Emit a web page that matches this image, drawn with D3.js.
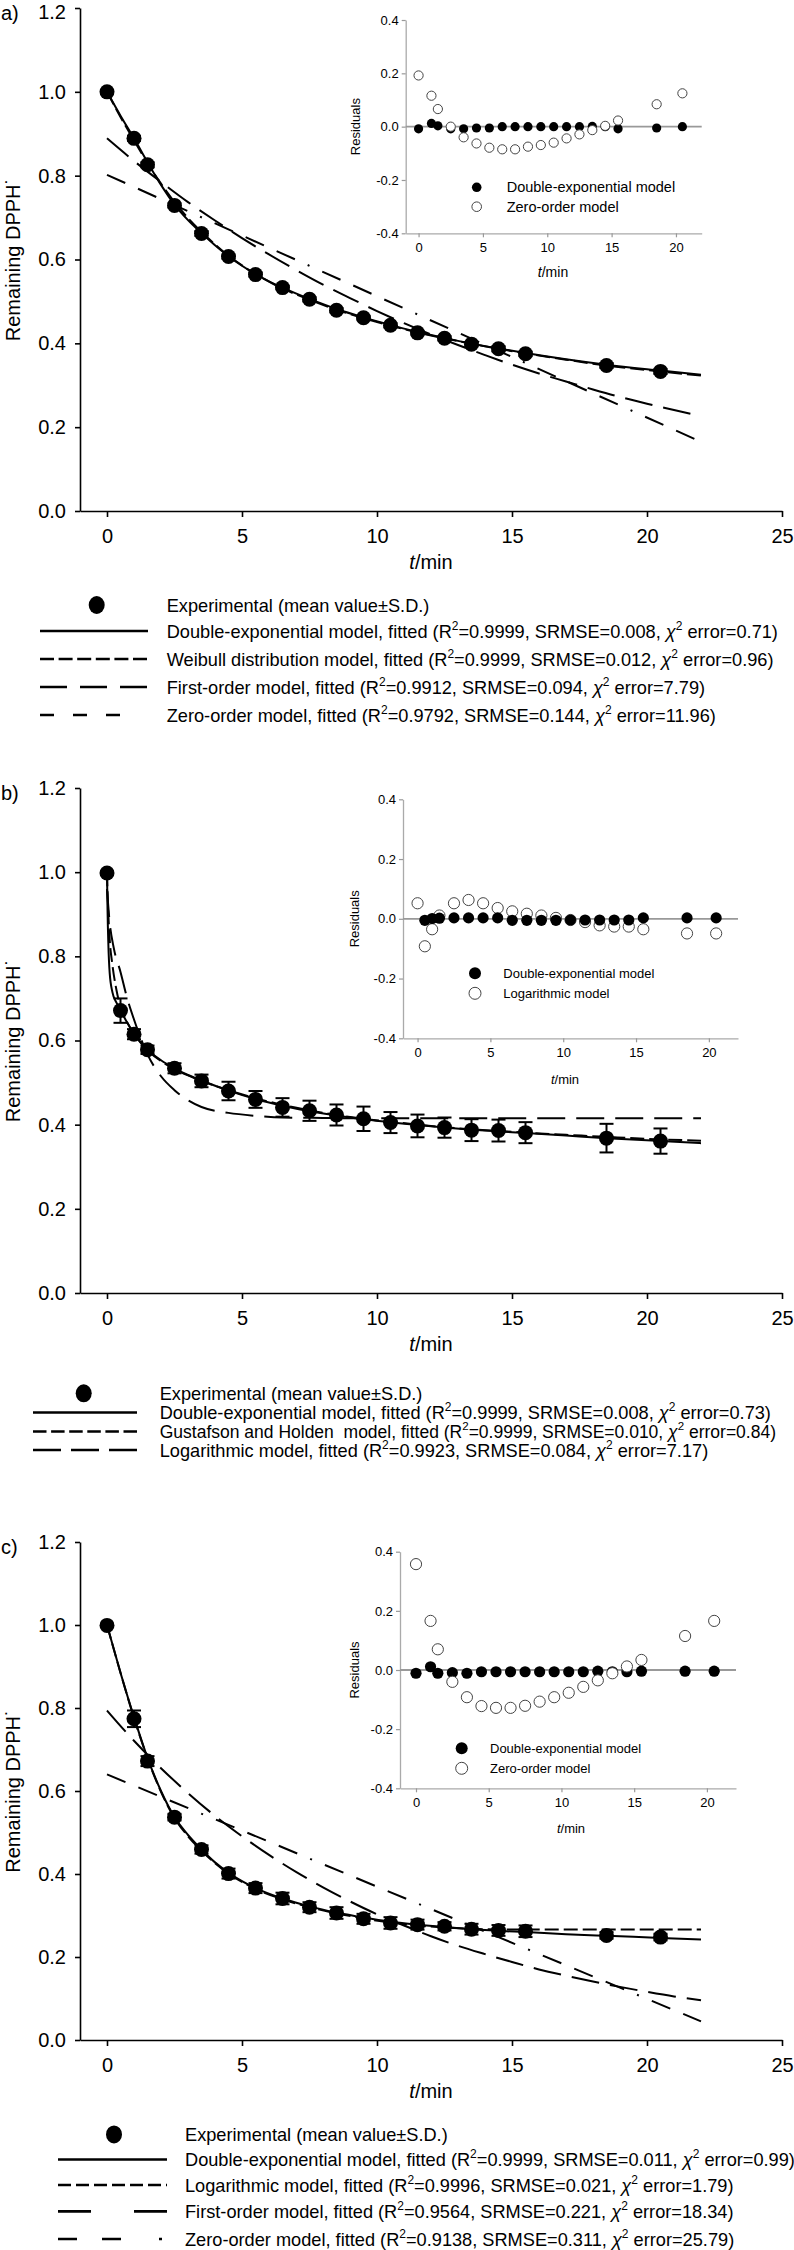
<!DOCTYPE html>
<html><head><meta charset="utf-8">
<script src="https://cdn.jsdelivr.net/npm/d3@7"></script>
<style>
body{margin:0;background:#fff}
svg{display:block}
text{font-family:"Liberation Sans",Arial,Helvetica,sans-serif;white-space:pre}
</style>
</head><body>
<svg id="chart" width="794" height="2250"></svg>
<script>
// ---------------- DATA ----------------
const xTicksMain = [0, 5, 10, 15, 20, 25];
const yTicksMain = [0, 0.2, 0.4, 0.6, 0.8, 1.0, 1.2];
const xTicksInset = [0, 5, 10, 15, 20];
const yTicksInset = [-0.4, -0.2, 0, 0.2, 0.4];

// Panel a
const timesA = [0,1,1.5,2.5,3.5,4.5,5.5,6.5,7.5,8.5,9.5,10.5,11.5,12.5,13.5,14.5,15.5,18.5,20.5];
const expA = [1.0,0.889,0.826,0.729,0.662,0.607,0.564,0.533,0.505,0.479,0.461,0.443,0.425,0.412,0.398,0.387,0.375,0.347,0.333];
const sdA = [0.004,0.006,0.006,0.005,0.006,0.005,0.005,0.004,0.005,0.005,0.004,0.005,0.004,0.005,0.005,0.006,0.005,0.006,0.006];
const fitTimesA = [0,0.5,1,1.5,2,2.5,3,3.5,4,4.5,5,5.5,6,6.5,7.5,8.5,9.5,10.5,11.5,12.5,13.5,14.5,15.5,17,18.5,20.5,22];
const doubleExpA = [1.0,0.943,0.889,0.832,0.778,0.731,0.694,0.663,0.634,0.608,0.585,0.565,0.548,0.533,0.506,0.482,0.462,0.444,0.427,0.413,0.399,0.388,0.377,0.362,0.349,0.335,0.325];
const weibullA = [1.0,0.94,0.884,0.83,0.781,0.737,0.699,0.666,0.636,0.609,0.586,0.565,0.547,0.531,0.504,0.480,0.460,0.442,0.426,0.412,0.399,0.387,0.376,0.361,0.347,0.333,0.323];
const firstTimesA = [0,1,2,3,4,5,6,7,8,9,10,11,12,13,14,15,16,17,18,19,20,21,22];
const firstOrderA = [0.889,0.835,0.785,0.737,0.693,0.651,0.612,0.575,0.540,0.508,0.477,0.448,0.421,0.396,0.372,0.349,0.328,0.309,0.290,0.272,0.256,0.241,0.226];
const zeroTimesA = [0,22];
const zeroOrderA = [0.802,0.165];
const resDoubleA = [-0.008,0.012,0.003,-0.008,-0.008,-0.005,-0.005,0,0,0,0,0,0,0,0.001,0,-0.008,-0.005,0];
const resZeroA = [0.192,0.116,0.066,0.0,-0.04,-0.063,-0.079,-0.085,-0.085,-0.075,-0.069,-0.06,-0.044,-0.029,-0.013,0.003,0.023,0.084,0.125];
const legendA = [
  "Experimental (mean value±S.D.)",
  "Double-exponential model, fitted (R2=0.9999, SRMSE=0.008, χ2 error=0.71)",
  "Weibull distribution model, fitted (R2=0.9999, SRMSE=0.012, χ2 error=0.96)",
  "First-order model, fitted (R2=0.9912, SRMSE=0.094, χ2 error=7.79)",
  "Zero-order model, fitted (R2=0.9792, SRMSE=0.144, χ2 error=11.96)"
];
const insetLegendA = ["Double-exponential model", "Zero-order model"];

// Panel b
const timesB = [0,0.5,1,1.5,2.5,3.5,4.5,5.5,6.5,7.5,8.5,9.5,10.5,11.5,12.5,13.5,14.5,15.5,18.5,20.5];
const expB = [0.998,0.671,0.615,0.578,0.534,0.504,0.480,0.460,0.441,0.433,0.423,0.414,0.405,0.397,0.393,0.387,0.386,0.381,0.368,0.361];
const sdB = [0.004,0.029,0.012,0.01,0.012,0.015,0.022,0.02,0.022,0.024,0.025,0.029,0.025,0.027,0.024,0.026,0.026,0.025,0.034,0.030];
const fitTimesB = [0,0.02,0.05,0.1,0.2,0.35,0.5,0.75,1,1.5,2,2.5,3,3.5,4.5,5.5,6.5,7.5,8.5,9.5,10.5,11.5,12.5,13.5,14.5,15.5,17,18.5,20.5,22];
const doubleExpB = [1.0,0.91,0.83,0.76,0.715,0.69,0.672,0.642,0.616,0.578,0.553,0.534,0.518,0.505,0.481,0.461,0.445,0.432,0.422,0.413,0.406,0.399,0.393,0.388,0.384,0.38,0.374,0.368,0.361,0.356];
const gustafsonB = [1.0,0.95,0.9,0.84,0.78,0.72,0.68,0.643,0.616,0.577,0.551,0.532,0.517,0.504,0.482,0.463,0.447,0.434,0.423,0.414,0.407,0.4,0.394,0.389,0.385,0.381,0.376,0.371,0.365,0.362];
const logTimesB = [0,0.1,0.25,0.5,0.75,1,1.5,2,2.5,3,3.5,4.5,5.5,6.5,8,10,12,15,18,22];
const logarithmicB = [0.96,0.88,0.82,0.763,0.70,0.65,0.567,0.515,0.482,0.458,0.442,0.428,0.421,0.417,0.416,0.415,0.415,0.415,0.415,0.415];
const resTimesDoubleB = [0.5,1,1.5,2.5,3.5,4.5,5.5,6.5,7.5,8.5,9.5,10.5,11.5,12.5,13.5,14.5,15.5,18.5,20.5];
const resDoubleB = [-0.005,0.001,0.002,0.003,0.003,0.003,0.003,-0.005,-0.005,-0.005,-0.005,-0.004,-0.004,-0.004,-0.004,-0.004,0.003,0.003,0.003];
const resLogB = [0.052,-0.092,-0.035,0.011,0.052,0.063,0.052,0.036,0.025,0.017,0.011,0.003,-0.004,-0.011,-0.022,-0.026,-0.026,-0.035,-0.049,-0.049];
const legendB = [
  "Experimental (mean value±S.D.)",
  "Double-exponential model, fitted (R2=0.9999, SRMSE=0.008, χ2 error=0.73)",
  "Gustafson and Holden  model, fitted (R2=0.9999, SRMSE=0.010, χ2 error=0.84)",
  "Logarithmic model, fitted (R2=0.9923, SRMSE=0.084, χ2 error=7.17)"
];
const insetLegendB = ["Double-exponential model", "Logarithmic model"];

// Panel c
const timesC = [0,1,1.5,2.5,3.5,4.5,5.5,6.5,7.5,8.5,9.5,10.5,11.5,12.5,13.5,14.5,15.5,18.5,20.5];
const expC = [0.999,0.774,0.672,0.537,0.459,0.401,0.366,0.341,0.320,0.306,0.292,0.282,0.278,0.274,0.267,0.264,0.262,0.252,0.248];
const sdC = [0.004,0.02,0.012,0.008,0.01,0.012,0.012,0.014,0.012,0.014,0.012,0.014,0.012,0.01,0.013,0.013,0.014,0.008,0.008];
const fitTimesC = [0,0.5,1,1.5,2,2.5,3,3.5,4,4.5,5,5.5,6.5,7.5,8.5,9.5,10.5,11.5,12.5,13.5,14.5,15.5,17,18.5,20.5,22];
const doubleExpC = [1.0,0.885,0.778,0.680,0.600,0.537,0.494,0.459,0.428,0.403,0.383,0.366,0.341,0.322,0.307,0.295,0.285,0.278,0.272,0.267,0.263,0.260,0.255,0.251,0.246,0.242];
const logTimesC = [0,0.5,1,1.5,2,2.5,3,3.5,4,4.5,5,5.5,6.5,7.5,8.5,9.5,10.5,11.5,12.5,13.5,15,22];
const logarithmicC = [1.0,0.885,0.776,0.679,0.598,0.535,0.491,0.456,0.426,0.401,0.381,0.364,0.339,0.320,0.305,0.293,0.283,0.276,0.271,0.268,0.266,0.266];
const firstTimesC = [0,1,2,3,4,5,6,7,8,9,10,11,12,13,14,15,16,17,18,19,20,21,22];
const firstOrderC = [0.794,0.721,0.655,0.595,0.540,0.491,0.446,0.405,0.368,0.334,0.303,0.276,0.250,0.227,0.207,0.188,0.170,0.155,0.141,0.128,0.116,0.105,0.096];
const zeroTimesC = [0,22];
const zeroOrderC = [0.64,0.045];
const resDoubleC = [-0.011,0.011,-0.011,-0.009,-0.011,-0.006,-0.006,-0.006,-0.006,-0.006,-0.006,-0.006,-0.006,-0.004,-0.006,-0.006,-0.004,-0.004,-0.004];
const resZeroC = [0.358,0.166,0.07,-0.04,-0.092,-0.122,-0.128,-0.128,-0.121,-0.107,-0.092,-0.077,-0.057,-0.035,-0.011,0.012,0.034,0.115,0.166];
const legendC = [
  "Experimental (mean value±S.D.)",
  "Double-exponential model, fitted (R2=0.9999, SRMSE=0.011, χ2 error=0.99)",
  "Logarithmic model, fitted (R2=0.9996, SRMSE=0.021, χ2 error=1.79)",
  "First-order model, fitted (R2=0.9564, SRMSE=0.221, χ2 error=18.34)",
  "Zero-order model, fitted (R2=0.9138, SRMSE=0.311, χ2 error=25.79)"
];
const insetLegendC = ["Double-exponential model", "Zero-order model"];

// ---------------- DRAWING ----------------
const svg = d3.select("#chart");
svg.append("rect").attr("width", 794).attr("height", 2250).attr("fill", "#fff");
const x = d3.scaleLinear().domain([-1, 25]).range([80, 782]);
const zip = (ts, vs) => ts.map((t, i) => [t, vs[i]]);

const DASH = {
  solid: null,
  short: "14,5",
  long: "28,11",
  dashdot: "20,14,20,14,20,14,2,14"
};

function richText(g, str, fs) {
  let pending = 0;
  str.split(/(R2|χ2)/).forEach(p => {
    if (!p) return;
    if (p === "R2" || p === "χ2") {
      const base = g.append("tspan").text(p[0]);
      if (pending) { base.attr("dy", pending); pending = 0; }
      if (p[0] === "χ") base.attr("font-style", "italic");
      g.append("tspan").attr("dy", -fs * 0.42).attr("font-size", fs * 0.66).text("2");
      pending = fs * 0.42;
    } else {
      const t = g.append("tspan").text(p);
      if (pending) { t.attr("dy", pending); pending = 0; }
    }
  });
}

function drawPanel(P) {
  const y = d3.scaleLinear().domain([0, 1.2]).range([P.yBot, P.yTop]);
  const g = svg.append("g");

  const ax = g.append("g").attr("transform", `translate(0,${P.yBot})`)
    .call(d3.axisBottom(x).tickValues(xTicksMain).tickSize(6).tickPadding(12).tickSizeOuter(0));
  const ay = g.append("g").attr("transform", `translate(${x(-1)},0)`)
    .call(d3.axisLeft(y).tickValues(yTicksMain).tickFormat(d => d.toFixed(1)).tickSize(5).tickPadding(9).tickSizeOuter(0));
  [ax, ay].forEach(a => {
    a.select(".domain").attr("stroke", "#000").attr("stroke-width", 1.6);
    a.selectAll(".tick line").attr("stroke", "#000").attr("stroke-width", 1.6);
    a.selectAll(".tick text").attr("font-size", 20).attr("fill", "#000")
      .attr("font-family", '"Liberation Sans",Arial,sans-serif');
  });
  if (P.topLabelDy) ay.selectAll(".tick text").filter(d => d === 1.2).attr("dy", P.topLabelDy);

  g.append("text").attr("x", 1).attr("y", Math.max(P.yTop + 12, 19)).attr("font-size", 20).text(P.label);
  const yl = g.append("text").attr("transform", `translate(20,${(P.yTop + P.yBot) / 2}) rotate(-90)`)
    .attr("text-anchor", "middle").attr("font-size", 20);
  yl.append("tspan").text("Remaining DPPH");
  yl.append("tspan").text("˙");
  const xl = g.append("text").attr("x", 431).attr("y", P.yBot + 58).attr("text-anchor", "middle").attr("font-size", 20);
  xl.append("tspan").attr("font-style", "italic").text("t");
  xl.append("tspan").text("/min");

  const line = d3.line().x(d => x(d[0])).y(d => y(d[1])).curve(d3.curveMonotoneX);
  P.curves.forEach(c => {
    g.append("path").attr("d", line(zip(c.t, c.v))).attr("fill", "none")
      .attr("stroke", "#000").attr("stroke-width", 2)
      .attr("stroke-dasharray", DASH[c.style]);
  });

  const pts = zip(P.times, P.exp).map((d, i) => ({ t: d[0], v: d[1], sd: P.sd[i] }));
  const eb = g.append("g").attr("stroke", "#000").attr("stroke-width", 2);
  pts.forEach(d => {
    if (!d.sd) return;
    const cx = x(d.t), y1 = y(d.v + d.sd), y2 = y(d.v - d.sd);
    eb.append("line").attr("x1", cx).attr("x2", cx).attr("y1", y1).attr("y2", y2);
    eb.append("line").attr("x1", cx - 7).attr("x2", cx + 7).attr("y1", y1).attr("y2", y1);
    eb.append("line").attr("x1", cx - 7).attr("x2", cx + 7).attr("y1", y2).attr("y2", y2);
  });
  g.append("g").selectAll("circle").data(pts).join("circle")
    .attr("cx", d => x(d.t)).attr("cy", d => y(d.v)).attr("r", P.r).attr("fill", "#000");

  drawInset(P.inset);
  drawLegend(P.legend);
}

function drawInset(I) {
  const xi = d3.scaleLinear().domain(I.xd).range([I.x0, I.x1]);
  const yi = d3.scaleLinear().domain([-0.4, 0.4]).range([I.yBot, I.yTop]);
  const g = svg.append("g");
  const ax = g.append("g").attr("transform", `translate(0,${I.yBot})`)
    .call(d3.axisBottom(xi).tickValues(xTicksInset).tickSize(4).tickPadding(5).tickSizeOuter(0));
  const ay = g.append("g").attr("transform", `translate(${I.x0},0)`)
    .call(d3.axisLeft(yi).tickValues(yTicksInset).tickFormat(d => d.toFixed(1)).tickSize(4).tickPadding(3).tickSizeOuter(0));
  [ax, ay].forEach(a => {
    a.select(".domain").attr("stroke", "#aaa").attr("stroke-width", 1.3);
    a.selectAll(".tick line").attr("stroke", "#999").attr("stroke-width", 1.2);
    a.selectAll(".tick text").attr("font-size", 13).attr("fill", "#000")
      .attr("font-family", '"Liberation Sans",Arial,sans-serif');
  });
  g.append("line").attr("x1", I.x0).attr("x2", I.x1).attr("y1", yi(0)).attr("y2", yi(0))
    .attr("stroke", "#999").attr("stroke-width", 1.8);
  g.append("text").attr("transform", `translate(${I.resX},${(I.yTop + I.yBot) / 2}) rotate(-90)`)
    .attr("text-anchor", "middle").attr("font-size", 13).text("Residuals");
  const xl = g.append("text").attr("x", I.titleX).attr("y", I.titleY).attr("text-anchor", "middle").attr("font-size", I.titleFs);
  xl.append("tspan").attr("font-style", "italic").text("t");
  xl.append("tspan").text("/min");

  const filled = zip(I.filledT, I.filledV);
  const open = zip(I.openT, I.openV);
  const drawFilled = () => g.append("g").selectAll("circle").data(filled).join("circle")
    .attr("cx", d => xi(d[0])).attr("cy", d => yi(d[1])).attr("r", I.r).attr("fill", "#000");
  const drawOpen = () => g.append("g").selectAll("circle").data(open).join("circle")
    .attr("cx", d => xi(d[0])).attr("cy", d => yi(d[1])).attr("r", I.r).attr("fill", "#fff")
    .attr("stroke", "#444").attr("stroke-width", 1);
  if (I.filledTop) { drawOpen(); drawFilled(); } else { drawFilled(); drawOpen(); }

  g.append("circle").attr("cx", I.legX).attr("cy", I.legY[0]).attr("r", I.legR).attr("fill", "#000");
  g.append("circle").attr("cx", I.legX).attr("cy", I.legY[1]).attr("r", I.legR).attr("fill", "#fff")
    .attr("stroke", "#444").attr("stroke-width", 1);
  I.names.forEach((n, i) => {
    g.append("text").attr("x", I.legTextX).attr("y", I.legY[i]).attr("dy", "0.35em")
      .attr("font-size", I.legFs).text(n);
  });
}

function drawLegend(L) {
  const g = svg.append("g");
  L.rows.forEach((yy, i) => {
    if (i === 0) {
      g.append("ellipse").attr("cx", L.mx).attr("cy", yy).attr("rx", 8).attr("ry", 9).attr("fill", "#000");
    } else {
      g.append("line").attr("x1", L.x0).attr("x2", L.x1).attr("y1", yy).attr("y2", yy)
        .attr("stroke", "#000").attr("stroke-width", 2.6)
        .attr("stroke-dasharray", L.dashes[i - 1]);
    }
    const fs = L.fs[i];
    const t = g.append("text").attr("x", L.tx).attr("y", yy).attr("dy", "0.36em").attr("font-size", fs);
    richText(t, L.labels[i], fs);
  });
}

drawPanel({
  label: "a)", yTop: 8, yBot: 511, r: 7.5, topLabelDy: "0.52em",
  times: timesA, exp: expA, sd: sdA,
  curves: [
    { t: fitTimesA, v: doubleExpA, style: "solid" },
    { t: fitTimesA, v: weibullA, style: "short" },
    { t: firstTimesA, v: firstOrderA, style: "long" },
    { t: zeroTimesA, v: zeroOrderA, style: "dashdot" }
  ],
  inset: {
    x0: 405.7, x1: 701.7, xd: [-1, 22], yTop: 20, yBot: 233.3, r: 4.6,
    filledT: timesA, filledV: resDoubleA, openT: timesA, openV: resZeroA, filledTop: false,
    resX: 360, titleX: 553, titleY: 277, titleFs: 14,
    legX: 476.7, legY: [187.3, 206.7], legR: 4.8, legTextX: 506.7, legFs: 14.5, names: insetLegendA
  },
  legend: {
    mx: 96.7, x0: 40, x1: 148, tx: 166.7, rows: [605, 631, 659, 687, 715],
    fs: [18.2, 18.2, 18.2, 18.2, 18.2],
    dashes: [null, "14,4.6", "27,13", "14,19,14,19,14,28,2,10"], labels: legendA
  }
});

drawPanel({
  label: "b)", yTop: 788, yBot: 1293, r: 7.5,
  times: timesB, exp: expB, sd: sdB,
  curves: [
    { t: fitTimesB, v: doubleExpB, style: "solid" },
    { t: fitTimesB, v: gustafsonB, style: "short" },
    { t: logTimesB, v: logarithmicB, style: "long" }
  ],
  inset: {
    x0: 403, x1: 738, xd: [-1, 22], yTop: 799.3, yBot: 1038.3, r: 5.6,
    filledT: resTimesDoubleB, filledV: resDoubleB, openT: timesB, openV: resLogB, filledTop: true,
    resX: 359, titleX: 565, titleY: 1084, titleFs: 13,
    legX: 475, legY: [973.3, 993.3], legR: 6, legTextX: 503.3, legFs: 13, names: insetLegendB
  },
  legend: {
    mx: 83.7, x0: 33, x1: 137, tx: 159.7, rows: [1393.3, 1412.5, 1431.5, 1450],
    fs: [18.2, 18.2, 17.5, 18.2],
    dashes: [null, "13.5,4.6", "28,10"], labels: legendB
  }
});

drawPanel({
  label: "c)", yTop: 1542, yBot: 2040, r: 7.5,
  times: timesC, exp: expC, sd: sdC,
  curves: [
    { t: fitTimesC, v: doubleExpC, style: "solid" },
    { t: logTimesC, v: logarithmicC, style: "short" },
    { t: firstTimesC, v: firstOrderC, style: "long" },
    { t: zeroTimesC, v: zeroOrderC, style: "dashdot" }
  ],
  inset: {
    x0: 400, x1: 736, xd: [-1.1, 22], yTop: 1551.7, yBot: 1788.3, r: 5.6,
    filledT: timesC, filledV: resDoubleC, openT: timesC, openV: resZeroC, filledTop: false,
    resX: 359, titleX: 571, titleY: 1833, titleFs: 13,
    legX: 461.7, legY: [1748.3, 1768.3], legR: 6, legTextX: 490, legFs: 13, names: insetLegendC
  },
  legend: {
    mx: 114, x0: 58, x1: 167, tx: 185, rows: [2134.4, 2159.5, 2185, 2211.4, 2239],
    fs: [18.2, 18.2, 18.2, 18.2, 18.2],
    dashes: [null, "13,5", "33,43", "19,25,19,38,3,10"], labels: legendC
  }
});
</script>
</body></html>
